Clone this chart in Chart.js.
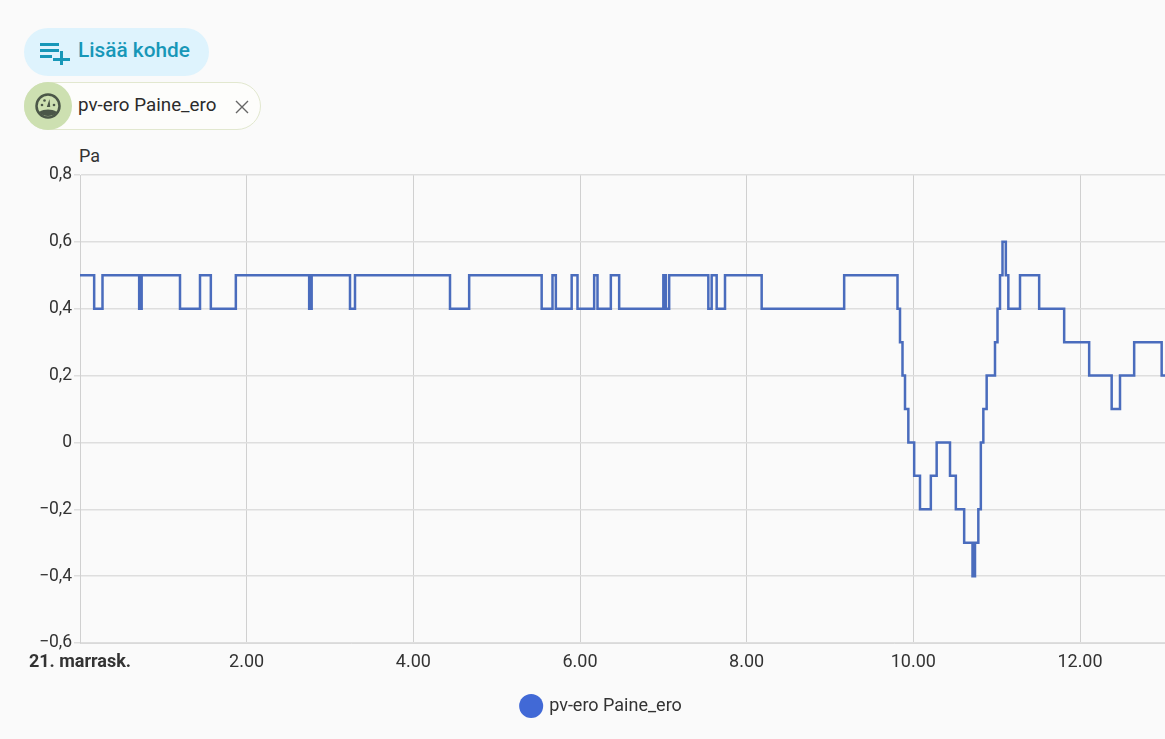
<!DOCTYPE html>
<html lang="fi">
<head>
<meta charset="utf-8">
<title>pv-ero Paine_ero</title>
<script src="https://cdn.jsdelivr.net/npm/chart.js@4"></script>
<style>
    html, body { margin: 0; padding: 0; background: #fafafa; overflow: hidden; }
    body { width: 1165px; height: 739px; position: relative; font-family: Roboto, sans-serif; }
    #myChart { position: absolute; left: 0; top: 0; }
    #add-button {
        position: absolute; left: 24px; top: 28px; width: 185px; height: 48px;
        border-radius: 24px; background: #def3fd; color: #1797b8;
        font-size: 20.8px; font-weight: 500; line-height: 45px;
    }
    #add-button svg { position: absolute; left: 15px; top: 12px; }
    #add-button span { position: absolute; left: 54px; white-space: nowrap; }
    #chip {
        position: absolute; left: 24px; top: 82px; width: 235px; height: 46px;
        border: 1px solid #e2e8cf; border-radius: 24px; background: #fdfdfb;
        color: #2b2b2b; font-size: 18.8px; line-height: 45px;
    }
    #chip .avatar {
        position: absolute; left: -1px; top: -1px; width: 48px; height: 48px;
        border-radius: 50%; background: #cde0b1;
    }
    #chip .avatar svg { position: absolute; left: 10px; top: 10px; }
    #chip .label { position: absolute; left: 53px; white-space: nowrap; }
    #chip .close { position: absolute; left: 210px; top: 17px; }
    #unit { position: absolute; left: 79px; top: 145px; font-size: 18px; color: #333; }
</style>
</head>
<body>
<div id="add-button">
    <svg width="32" height="26" viewBox="0 0 32 26">
        <path d="M1 3h19v3H1zM1 9h19v3H1zM1 15h12v3H1zM21 11h3v7h7v3h-7v4h-3v-4h-7v-3h7z" fill="#1797b8"/>
    </svg>
    <span>Lisää kohde</span>
</div>
<div id="chip">
    <div class="avatar">
        <svg width="28" height="28" viewBox="0 0 28 28">
            <circle cx="14" cy="14" r="11.5" fill="none" stroke="#4b5748" stroke-width="2.5"/>
            <path d="M5 20c3-1.800 6-2.500 9-2.500s6 .7 9 2.500c-2 2.800-5 4-9 4s-7-1.200-9-4z" fill="#4b5748"/>
            <path d="M12.800 15l2.700-8 .7 8z" fill="#4b5748"/>
            <circle cx="8" cy="13" r="1.300" fill="#4b5748"/>
            <circle cx="10.500" cy="8.500" r="1.300" fill="#4b5748"/>
            <circle cx="20" cy="13" r="1.300" fill="#4b5748"/>
        </svg>
    </div>
    <span class="label">pv-ero Paine_ero</span>
    <svg class="close" width="14" height="14" viewBox="0 0 14 14">
        <path d="M1 1l12 12M13 1L1 13" stroke="#666" stroke-width="1.400"/>
    </svg>
</div>
<div id="unit">Pa</div>
<canvas id="myChart" width="1165" height="739"></canvas>

<script>
'use strict';

let seriesName = "pv-ero Paine_ero";
let firstTickLabel = "21. marrask.";

// hours after midnight where the reading changes, the value holds until the next one
let hours = [
    0, 0.17, 0.27, 0.71, 0.74, 1.20, 1.44, 1.57, 1.87, 2.75, 2.78, 3.24, 3.30, 4.44, 4.67,
    5.54, 5.67, 5.71, 5.90, 5.97, 6.17, 6.21, 6.37, 6.47, 7.00, 7.03, 7.07, 7.54, 7.58, 7.64,
    7.74, 8.18, 9.17, 9.81, 9.84, 9.87, 9.90, 9.94, 10.01, 10.08, 10.21, 10.28, 10.44, 10.51,
    10.61, 10.71, 10.74, 10.78, 10.81, 10.84, 10.88, 10.98, 11.01, 11.04, 11.07, 11.11, 11.14,
    11.28, 11.51, 11.81, 12.11, 12.38, 12.48, 12.65, 12.98, 13.02
];
let pressure = [
    0.5, 0.4, 0.5, 0.4, 0.5, 0.4, 0.5, 0.4, 0.5, 0.4, 0.5, 0.4, 0.5, 0.4, 0.5,
    0.4, 0.5, 0.4, 0.5, 0.4, 0.5, 0.4, 0.5, 0.4, 0.5, 0.4, 0.5, 0.4, 0.5, 0.4,
    0.5, 0.4, 0.5, 0.4, 0.3, 0.2, 0.1, 0, -0.1, -0.2, -0.1, 0, -0.1, -0.2,
    -0.3, -0.4, -0.3, -0.2, 0, 0.1, 0.2, 0.3, 0.4, 0.5, 0.6, 0.5, 0.4,
    0.5, 0.4, 0.3, 0.2, 0.1, 0.2, 0.3, 0.2, 0.2
];

let points = [];
for (let i = 0; i < hours.length; i++) {
    points.push({ x: hours[i], y: pressure[i] });
}

function formatValue(value) {
    let text = Math.abs(value) < 0.001 ? "0" : Math.abs(value).toFixed(1).replace(".", ",");
    return value < -0.001 ? "\u2212" + text : text;
}

function formatHour(value) {
    return value === 0 ? firstTickLabel : value + ".00";
}

let ctx = document.getElementById('myChart').getContext('2d');
let chart = new Chart(ctx, {
    type: 'line',
    data: {
        datasets: [{
            label: seriesName,
            data: points,
            stepped: true,
            borderColor: '#4a6cbd',
            backgroundColor: '#4169d6',
            borderWidth: 2.5,
            pointRadius: 0,
            fill: false
        }]
    },
    options: {
        responsive: false,
        animation: false,
        layout: { padding: { left: 39, right: 0, top: 175, bottom: 14 } },
        plugins: {
            tooltip: { enabled: false },
            legend: {
                position: 'bottom',
                labels: {
                    usePointStyle: true,
                    pointStyle: 'circle',
                    boxHeight: 17,
                    color: '#333',
                    padding: 8,
                    font: { family: 'Roboto', size: 18 },
                    generateLabels: function (c) {
                        let items = Chart.defaults.plugins.legend.labels.generateLabels(c);
                        items.forEach(function (item) {
                            item.strokeStyle = '#4169d6';
                            item.lineWidth = 0;
                        });
                        return items;
                    }
                }
            }
        },
        scales: {
            x: {
                type: 'linear',
                min: 0,
                max: 13.02,
                afterFit: function (scale) { scale.height = 46; },
                afterBuildTicks: function (scale) {
                    scale.ticks = scale.ticks.filter(function (t) { return t.value % 2 === 0; });
                },
                border: { color: '#d9d9d9', width: 1 },
                grid: { color: '#d0d0d0', lineWidth: 1, drawTicks: false },
                ticks: {
                    stepSize: 2,
                    padding: 9,
                    maxRotation: 0,
                    autoSkip: false,
                    color: '#333',
                    font: function (c) {
                        return { family: 'Roboto', size: 18, weight: c.index === 0 ? 'bold' : 'normal' };
                    },
                    callback: formatHour
                }
            },
            y: {
                min: -0.6,
                max: 0.8,
                afterFit: function (scale) { scale.width = 41; },
                border: { color: '#d0d0d0', width: 1 },
                grid: { color: '#dedede', lineWidth: 1.5, tickLength: 6 },
                ticks: {
                    stepSize: 0.2,
                    padding: 2,
                    color: '#333',
                    font: { family: 'Roboto', size: 17.5 },
                    callback: formatValue
                }
            }
        }
    }
});
</script>
</body>
</html>
